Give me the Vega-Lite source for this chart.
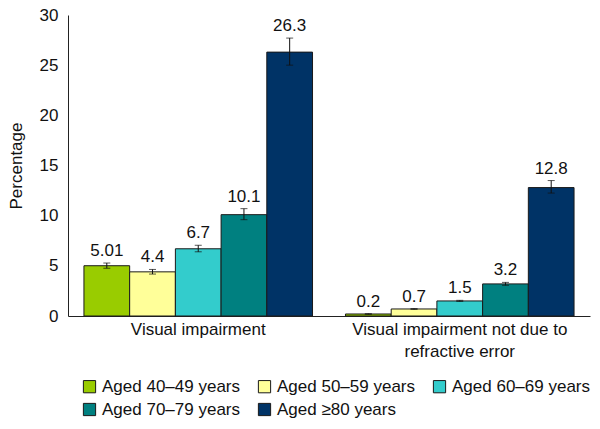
{
  "$schema": "https://vega.github.io/schema/vega-lite/v6.json",
  "width": 522,
  "height": 301,
  "autosize": "none",
  "padding": {"left": 68, "top": 15, "right": 10, "bottom": 113},
  "config": {
    "font": "Liberation Sans",
    "view": {"stroke": null},
    "axis": {"grid": false, "ticks": false, "domainColor": "#222", "domainWidth": 1, "labelColor": "#111", "titleColor": "#111"}
  },
  "data": {
    "values": [
      {"category": "Visual impairment", "age": "Aged 40–49 years", "value": 5.01, "lo": 4.76, "hi": 5.28, "label": "5.01"},
      {"category": "Visual impairment", "age": "Aged 50–59 years", "value": 4.4, "lo": 4.18, "hi": 4.64, "label": "4.4"},
      {"category": "Visual impairment", "age": "Aged 60–69 years", "value": 6.7, "lo": 6.4, "hi": 7.05, "label": "6.7"},
      {"category": "Visual impairment", "age": "Aged 70–79 years", "value": 10.1, "lo": 9.6, "hi": 10.7, "label": "10.1"},
      {"category": "Visual impairment", "age": "Aged ≥80 years", "value": 26.3, "lo": 25.0, "hi": 27.7, "label": "26.3"},
      {"category": "Visual impairment not due to refractive error", "age": "Aged 40–49 years", "value": 0.2, "lo": 0.17, "hi": 0.23, "label": "0.2"},
      {"category": "Visual impairment not due to refractive error", "age": "Aged 50–59 years", "value": 0.7, "lo": 0.66, "hi": 0.74, "label": "0.7"},
      {"category": "Visual impairment not due to refractive error", "age": "Aged 60–69 years", "value": 1.5, "lo": 1.45, "hi": 1.56, "label": "1.5"},
      {"category": "Visual impairment not due to refractive error", "age": "Aged 70–79 years", "value": 3.2, "lo": 3.06, "hi": 3.35, "label": "3.2"},
      {"category": "Visual impairment not due to refractive error", "age": "Aged ≥80 years", "value": 12.8, "lo": 12.25, "hi": 13.5, "label": "12.8"}
    ]
  },
  "encoding": {
    "x": {
      "field": "category",
      "type": "nominal",
      "sort": ["Visual impairment", "Visual impairment not due to refractive error"],
      "scale": {"paddingInner": 0.126, "paddingOuter": 0.061},
      "axis": {
        "title": null,
        "labelAngle": 0,
        "labelFontSize": 17,
        "labelPadding": 5,
        "labelLimit": 0,
        "labelLineHeight": 22,
        "labelExpr": "datum.label == 'Visual impairment not due to refractive error' ? ['Visual impairment not due to', 'refractive error'] : datum.label"
      }
    },
    "xOffset": {
      "field": "age",
      "type": "nominal",
      "sort": ["Aged 40–49 years", "Aged 50–59 years", "Aged 60–69 years", "Aged 70–79 years", "Aged ≥80 years"],
      "scale": {"paddingInner": 0, "paddingOuter": 0}
    }
  },
  "layer": [
    {
      "mark": {"type": "bar", "stroke": "#1a1a1a", "strokeWidth": 1},
      "encoding": {
        "y": {
          "field": "value",
          "type": "quantitative",
          "scale": {"domain": [0, 30], "nice": false},
          "axis": {"values": [0, 5, 10, 15, 20, 25, 30], "title": "Percentage", "titleFontSize": 17, "titleFontWeight": "normal", "labelFontSize": 17, "labelPadding": 10, "titlePadding": 14}
        },
        "color": {
          "field": "age",
          "type": "nominal",
          "sort": ["Aged 40–49 years", "Aged 50–59 years", "Aged 60–69 years", "Aged 70–79 years", "Aged ≥80 years"],
          "scale": {
            "domain": ["Aged 40–49 years", "Aged 50–59 years", "Aged 60–69 years", "Aged 70–79 years", "Aged ≥80 years"],
            "range": ["#99cc00", "#ffff99", "#33cccc", "#008080", "#003366"]
          },
          "legend": {
            "title": null,
            "orient": "none",
            "legendX": 13,
            "legendY": 363,
            "direction": "horizontal",
            "columns": 3,
            "symbolType": "square",
            "symbolSize": 150,
            "symbolStrokeColor": "#1a1a1a",
            "symbolStrokeWidth": 1,
            "labelFontSize": 17,
            "labelColor": "#111",
            "labelOffset": 4,
            "labelLimit": 0,
            "columnPadding": 16,
            "rowPadding": 5
          }
        }
      }
    },
    {
      "mark": {"type": "rule", "color": "#111", "strokeWidth": 1},
      "encoding": {
        "y": {"field": "lo", "type": "quantitative"},
        "y2": {"field": "hi"}
      }
    },
    {
      "mark": {"type": "tick", "color": "#111", "size": 7, "thickness": 1},
      "encoding": {
        "y": {"field": "lo", "type": "quantitative"}
      }
    },
    {
      "mark": {"type": "tick", "color": "#111", "size": 7, "thickness": 1},
      "encoding": {
        "y": {"field": "hi", "type": "quantitative"}
      }
    },
    {
      "mark": {"type": "text", "baseline": "bottom", "dy": -3, "fontSize": 17, "color": "#111"},
      "encoding": {
        "y": {"field": "hi", "type": "quantitative"},
        "text": {"field": "label"}
      }
    }
  ]
}
